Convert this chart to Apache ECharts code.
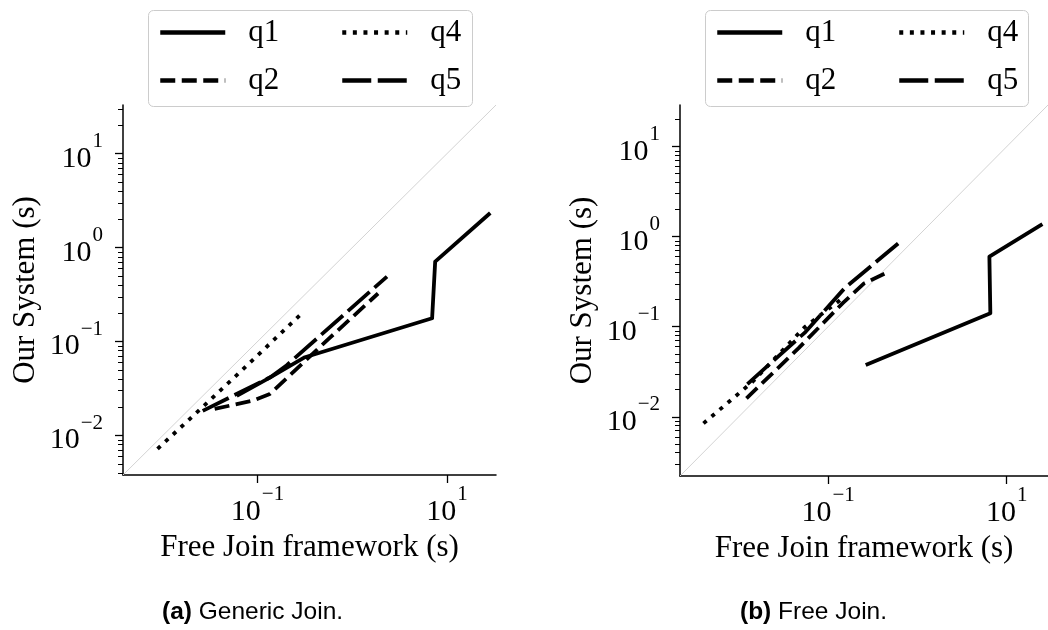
<!DOCTYPE html>
<html>
<head>
<meta charset="utf-8">
<script src="https://cdn.jsdelivr.net/npm/echarts@6/dist/echarts.min.js"></script>
<style>
  html, body { margin: 0; padding: 0; background: #fff; }
  #chart { width: 1048px; height: 630px; }
</style>
</head>
<body>
<div id="chart"></div>
<script>
// (a) Generic Join: [Free Join framework (s), Our System (s)]
const gjQ1 = [[0.0604, 0.0264], [0.138, 0.0419], [0.317, 0.0682], [6.98, 0.177], [7.52, 0.710], [28.7, 2.34]];
const gjQ2 = [[0.0353, 0.0192], [0.0891, 0.0235], [0.135, 0.0277], [0.582, 0.110], [1.875, 0.325]];
const gjQ4 = [[0.0088, 0.0072], [0.060, 0.0436], [0.30, 0.204]];
const gjQ5 = [[0.0264, 0.0183], [0.138, 0.0419], [0.204, 0.0561], [2.33, 0.492]];

// (b) Free Join
const fjQ1 = [[0.264, 0.0375], [6.56, 0.141], [6.40, 0.600], [25.1, 1.38]];
const fjQ2 = [[0.0122, 0.0160], [0.0468, 0.0579], [0.146, 0.183], [0.253, 0.303], [0.439, 0.392]];
const fjQ4 = [[0.00403, 0.00845], [0.0143, 0.0245], [0.0553, 0.100], [0.146, 0.208]];
const fjQ5 = [[0.0125, 0.0231], [0.0558, 0.0873], [0.154, 0.269], [0.637, 0.873]];

// axis limits (same on x and y, so y = x runs corner to corner)
const gjRange = [0.0038, 33];
const fjRange = [0.0022, 29];

const xTicks = [0.1, 10];
const xTickExp = ["\u22121", "1"];
const yTicks = [0.01, 0.1, 1, 10];
const yTickExp = ["\u22122", "\u22121", "0", "1"];
const gjMinor = [0.004, 0.005, 0.006, 0.007, 0.008, 0.009, 0.02, 0.03, 0.04, 0.05, 0.06, 0.07, 0.08, 0.09,
  0.2, 0.3, 0.4, 0.5, 0.6, 0.7, 0.8, 0.9, 2, 3, 4, 5, 6, 7, 8, 9, 20, 30];
const fjMinor = [0.003, 0.004, 0.005, 0.006, 0.007, 0.008, 0.009, 0.02, 0.03, 0.04, 0.05, 0.06, 0.07, 0.08, 0.09,
  0.2, 0.3, 0.4, 0.5, 0.6, 0.7, 0.8, 0.9, 2, 3, 4, 5, 6, 7, 8, 9, 20];

const legendCol1 = ["q1", "q2"];
const legendCol2 = ["q4", "q5"];

const SERIF = "'Liberation Serif', 'DejaVu Serif', serif";
const SANS = "'Liberation Sans', Arial, sans-serif";

const styles = {
  q1: { type: "solid" },
  q2: { type: [15, 6.5] },
  q4: { type: [4, 6.6] },
  q5: { type: [29, 6.5] },
};

function expLabel(ticks, exps) {
  return (value) => {
    const i = ticks.findIndex((t) => Math.abs(t - value) / t < 1e-6);
    return i < 0 ? "" : `{b|10}{s|${exps[i]}}`;
  };
}

// superscript: small token lifted by bottom padding
const tickRich = {
  b: { fontFamily: SERIF, fontSize: 30, color: "#000", lineHeight: 40, verticalAlign: "bottom" },
  s: { fontFamily: SERIF, fontSize: 21, color: "#000", lineHeight: 21, verticalAlign: "bottom", padding: [0, 0, 22, 1] },
};

function xAxisFor(gridIndex, range) {
  return {
    type: "log",
    gridIndex,
    min: range[0],
    max: range[1],
    name: "Free Join framework (s)",
    nameLocation: "middle",
    nameGap: 57,
    nameTextStyle: { fontFamily: SERIF, fontSize: 31, color: "#000" },
    axisLine: { lineStyle: { color: "#000", width: 1.5 } },
    axisTick: { customValues: xTicks, length: 8, lineStyle: { color: "#000", width: 1.3 } },
    axisLabel: { customValues: xTicks, formatter: expLabel(xTicks, xTickExp), rich: tickRich, margin: 12 },
    splitLine: { show: false },
  };
}

function yAxisFor(gridIndex, range) {
  return {
    type: "log",
    gridIndex,
    position: "left",
    min: range[0],
    max: range[1],
    name: "Our System (s)",
    nameLocation: "middle",
    nameGap: 82,
    nameTextStyle: { fontFamily: SERIF, fontSize: 31, color: "#000" },
    axisLine: { lineStyle: { color: "#000", width: 1.5 } },
    axisTick: { customValues: yTicks, length: 8, lineStyle: { color: "#000", width: 1.3 } },
    axisLabel: { customValues: yTicks, formatter: expLabel(yTicks, yTickExp), rich: tickRich, margin: 20 },
    splitLine: { show: false },
  };
}

function minorAxisFor(gridIndex, range, minor) {
  return {
    type: "log",
    gridIndex,
    position: "left",
    offset: 0,
    min: range[0],
    max: range[1],
    axisLine: { show: false },
    axisLabel: { show: false },
    axisTick: { customValues: minor, length: 5, lineStyle: { color: "#000", width: 1 } },
    splitLine: { show: false },
  };
}

function lineSeries(name, data, axisIndex) {
  return {
    name,
    type: "line",
    xAxisIndex: axisIndex,
    yAxisIndex: axisIndex * 2,
    data,
    symbol: "none",
    z: 3,
    lineStyle: { color: "#000", width: 3.8, cap: "butt", join: "round", ...styles[name] },
    itemStyle: { color: "#000" },
  };
}

function diagonal(range, axisIndex) {
  return {
    name: "y=x",
    type: "line",
    xAxisIndex: axisIndex,
    yAxisIndex: axisIndex * 2,
    data: [[range[0], range[0]], [range[1], range[1]]],
    symbol: "none",
    silent: true,
    z: 1,
    lineStyle: { color: "#d3d3d3", width: 1 },
  };
}

function legendAt(left, names) {
  return {
    orient: "vertical",
    left,
    top: 17,
    padding: 0,
    itemWidth: 65,
    itemHeight: 14,
    itemGap: 17,
    selectedMode: false,
    data: names,
    itemStyle: { opacity: 0 },
    lineStyle: { width: 4.5 },
    formatter: (name) => `{g| }${name}`,
    textStyle: {
      fontFamily: SERIF,
      fontSize: 31,
      color: "#000",
      rich: { g: { width: 18 } },
    },
  };
}

function legendFrame(x, width) {
  return {
    type: "rect",
    left: x,
    top: 10,
    z: -1,
    shape: { width, height: 96, r: 5 },
    style: { fill: "#fff", stroke: "#cccccc", lineWidth: 1 },
  };
}

function caption(tag, text, left) {
  return {
    text: `{b|${tag}} ${text}`,
    left,
    top: 600,
    padding: 0,
    textStyle: {
      fontFamily: SANS,
      fontSize: 24.5,
      fontWeight: "normal",
      color: "#000",
      rich: { b: { fontFamily: SANS, fontSize: 24.5, fontWeight: "bold", color: "#000" } },
    },
  };
}

const chart = echarts.init(document.getElementById("chart"), null, { renderer: "canvas" });

chart.setOption({
  backgroundColor: "#fff",
  animation: false,
  grid: [
    { left: 123, top: 105, width: 373, height: 370 },
    { left: 680, top: 105, width: 374, height: 371 },
  ],
  xAxis: [xAxisFor(0, gjRange), xAxisFor(1, fjRange)],
  yAxis: [
    yAxisFor(0, gjRange),
    minorAxisFor(0, gjRange, gjMinor),
    yAxisFor(1, fjRange),
    minorAxisFor(1, fjRange, fjMinor),
  ],
  legend: [
    legendAt(158, legendCol1),
    legendAt(340, legendCol2),
    legendAt(715, legendCol1),
    legendAt(897, legendCol2),
  ],
  graphic: [legendFrame(148, 324), legendFrame(705, 323)],
  title: [caption("(a)", "Generic Join.", 162), caption("(b)", "Free Join.", 740)],
  series: [
    diagonal(gjRange, 0),
    lineSeries("q1", gjQ1, 0),
    lineSeries("q2", gjQ2, 0),
    lineSeries("q4", gjQ4, 0),
    lineSeries("q5", gjQ5, 0),
    diagonal(fjRange, 1),
    lineSeries("q1", fjQ1, 1),
    lineSeries("q2", fjQ2, 1),
    lineSeries("q4", fjQ4, 1),
    lineSeries("q5", fjQ5, 1),
  ],
});
</script>
</body>
</html>
